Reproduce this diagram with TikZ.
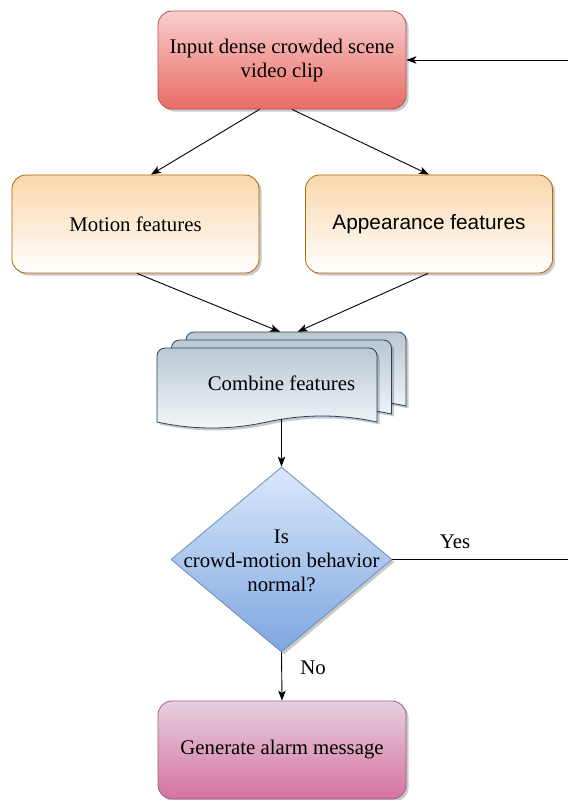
\documentclass[tikz,border=0pt]{standalone}
\usepackage{fontspec}
\setmainfont{Liberation Serif}
\newfontfamily\sansf{Liberation Sans}
\usetikzlibrary{shapes.geometric,arrows.meta,shadows,calc}
\definecolor{inTop}{HTML}{F8CECC}
\definecolor{inBot}{HTML}{EA6B66}
\definecolor{inLine}{HTML}{B85450}
\definecolor{orTop}{HTML}{FAD7AC}
\definecolor{orBot}{HTML}{FFFFFF}
\definecolor{orLine}{HTML}{B46504}
\definecolor{cbTop}{HTML}{BAC8D3}
\definecolor{cbBot}{HTML}{F4F7F9}
\definecolor{cbLine}{HTML}{23445D}
\definecolor{dTop}{HTML}{DAE8FC}
\definecolor{dBot}{HTML}{7EA6E0}
\definecolor{dLine}{HTML}{6C8EBF}
\definecolor{alTop}{HTML}{E6D0DE}
\definecolor{alBot}{HTML}{D5739D}
\definecolor{alLine}{HTML}{996185}
\newcommand\mydocshape[2]{%
  \path[docstyle] (#1,#2+74) [rounded corners=8pt] -- (#1,#2) -- (#1+220,#2) -- (#1+220,#2+20) [sharp corners] -- (#1+220,#2+74)
    .. controls (#1+183.3,#2+66) and (#1+146.7,#2+66) .. (#1+110,#2+74)
    .. controls (#1+73.3,#2+82) and (#1+36.7,#2+82) .. (#1,#2+74) -- cycle;}
\begin{document}
\begin{tikzpicture}[x=1pt,y=-1pt,
  every node/.style={font=\fontsize{20.8}{24}\selectfont, text=black},
  shad/.style={drop shadow={shadow xshift=2.5pt, shadow yshift=-2.5pt, opacity=0.3, fill=black!70}},
  box/.style={rectangle, rounded corners=14pt, minimum width=248pt, minimum height=98pt, inner sep=0pt, line width=0.8pt, align=center, shad},
  inbox/.style={box, draw=inLine, top color=inTop, bottom color=inBot},
  orbox/.style={box, minimum width=247pt, draw=orLine, top color=orTop, bottom color=orBot},
  albox/.style={box, draw=alLine, top color=alTop, bottom color=alBot},
  docstyle/.style={draw=cbLine, line width=0.8pt, top color=cbTop, bottom color=cbBot, shad},
  decision/.style={diamond, minimum width=221pt, minimum height=185pt, inner sep=0pt, line width=0.8pt, draw=dLine, top color=dTop, bottom color=dBot, shad},
  arr/.style={draw=black, line width=0.9pt, -{Stealth[length=10pt,width=7.5pt,inset=2.5pt]}},
  plain/.style={draw=black, line width=0.9pt},
  lbl/.style={inner sep=0pt}]
\fill[white] (0,0) rectangle (568,800);
\useasboundingbox (0,0) rectangle (568,800);

% nodes
\node[inbox] (input) at (282,60) {Input dense crowded scene\\video clip};
\node[orbox] (motion) at (135.5,224) {Motion features};
\node[orbox] (appear) at (429,224) {\sansf Appearance features};

% combine features (multi-document)
\mydocshape{186}{332}
\mydocshape{171.5}{340}
\mydocshape{157}{348}
\node[minimum width=249pt, minimum height=102pt, inner sep=0pt] (comb) at (281.5,383) {Combine features};
\coordinate (combout) at (281.5,419);

\node[decision] (dia) at (281.5,559.5) {};
\node[align=center, inner sep=0pt] (diatext) at (281.5,561) {Is\\crowd-motion behavior\\normal?};

\node[albox] (alarm) at (282,750) {Generate alarm message};

\coordinate (yesout) at (568,559.5);
\coordinate (loopin) at (568,60);

% connectors
\draw[arr] ($(input.south west)+(102,0)$) -- ($(motion.north)+(15.5,0)$);
\draw[arr] ($(input.south)+(10,0)$) -- (appear.north);
\draw[arr] ($(motion.south)+(1.5,0)$) -- ($(comb.north)+(-1.5,0)$);
\draw[arr] ($(appear.south)+(-1,0)$) -- ($(comb.north)+(16,0)$);
\draw[arr] (combout) -- (dia.north);
\draw[arr] (dia.south) -- (alarm.north);
\draw[plain] (dia.east) -- (yesout);
\draw[arr] (loopin) -- (input.east);

\node[lbl] (yes) at (455,542) {Yes};
\node[lbl] (no) at (313,668) {No};
\end{tikzpicture}
\end{document}
